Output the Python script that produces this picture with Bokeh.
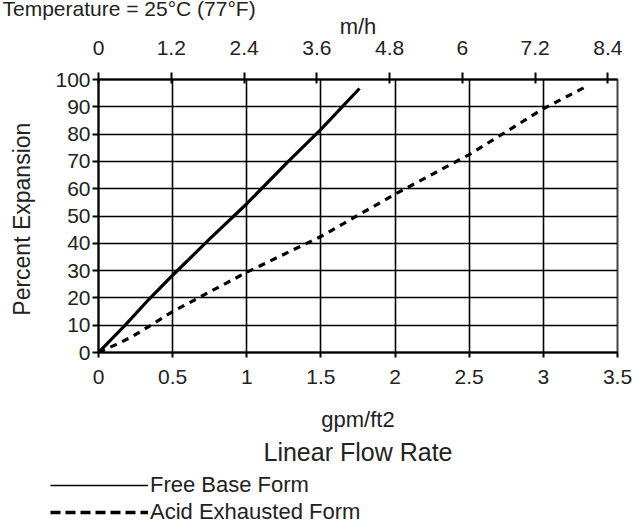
from bokeh.plotting import figure
from bokeh.layouts import column
from bokeh.models import (Range1d, LinearAxis, FixedTicker, Title, Legend, LegendItem,
                          ColumnDataSource)
from bokeh.embed import file_html
from bokeh.resources import INLINE

# ---- data ----
free_gpm = [0, 0.18, 0.34, 0.5, 0.75, 1.0, 1.28, 1.5, 1.76]
free_exp = [0, 10, 19.5, 28.3, 41.6, 54.5, 70, 81.7, 96.7]
acid_gpm = [0, 0.11, 0.22, 0.33, 0.5, 1.0, 1.5, 2.0, 2.5, 3.0, 3.28]
acid_exp = [0, 2.7, 5.6, 9.2, 15, 29.4, 42.5, 58, 72.5, 89.3, 97.2]

x_ticks = [0, 0.5, 1, 1.5, 2, 2.5, 3, 3.5]
x_labels = ["0", "0.5", "1", "1.5", "2", "2.5", "3", "3.5"]
y_ticks = [0, 10, 20, 30, 40, 50, 60, 70, 80, 90, 100]
mh_ticks = [0, 1.2, 2.4, 3.6, 4.8, 6.0, 7.2, 8.4]
mh_labels = ["0", "1.2", "2.4", "3.6", "4.8", "6", "7.2", "8.4"]
GPM_TO_MH = 2.445
series_names = ["Free Base Form", "Acid Exhausted Form"]
header = "Temperature = 25°C (77°F)"

FONT = "Liberation Sans"
TXT = "#222222"

p = figure(width=634, height=474, output_backend="svg", toolbar_location=None,
           x_range=Range1d(0, 3.5), y_range=Range1d(0, 100),
           min_border_left=98, min_border_right=17, min_border_top=79,
           min_border_bottom=122)
p.background_fill_color = "white"
p.border_fill_color = "white"
p.outline_line_color = "#444444"
p.outline_line_width = 2


def style_axis(ax, tick_out, tick_in, label_standoff, axis_standoff, label_size):
    ax.axis_label_text_font = FONT
    ax.axis_label_text_font_size = label_size
    ax.axis_label_text_font_style = "normal"
    ax.axis_label_text_color = TXT
    ax.axis_label_standoff = axis_standoff
    ax.major_label_text_font = FONT
    ax.major_label_text_font_size = "21px"
    ax.major_label_text_color = TXT
    ax.major_label_standoff = label_standoff
    ax.major_tick_out = tick_out
    ax.major_tick_in = tick_in
    ax.minor_tick_out = 0
    ax.minor_tick_in = 0
    ax.axis_line_width = 2
    ax.major_tick_line_width = 2


# bottom axis
xa = p.xaxis[0]
xa.ticker = FixedTicker(ticks=x_ticks)
xa.major_label_overrides = {t: s for t, s in zip(x_ticks, x_labels)}
xa.axis_label = "gpm/ft2"
style_axis(xa, 5, 0, 12, 20, "22px")

# left axis
ya = p.yaxis[0]
ya.ticker = FixedTicker(ticks=y_ticks)
ya.axis_label = "Percent  Expansion"
style_axis(ya, 6, 0, 2, 17, "23px")

# top axis in m/h
p.extra_x_ranges = {"mh": Range1d(0, 3.5 * GPM_TO_MH)}
ta = LinearAxis(x_range_name="mh")
ta.ticker = FixedTicker(ticks=mh_ticks)
ta.major_label_overrides = {t: s for t, s in zip(mh_ticks, mh_labels)}
ta.axis_label = "m/h"
style_axis(ta, 7, 4, 18, -1, "22px")
p.add_layout(ta, "above")

# cut-off header above everything
p.add_layout(Title(text=header, align="left", offset=-96, standoff=-22,
                   vertical_align="top",
                   text_font=FONT, text_font_size="21px",
                   text_font_style="normal", text_color=TXT), "above")

# grid
p.xgrid.ticker = FixedTicker(ticks=x_ticks)
p.ygrid.ticker = FixedTicker(ticks=y_ticks)
for g in (p.xgrid[0], p.ygrid[0]):
    g.grid_line_color = "black"
    g.grid_line_width = 1.6
    g.grid_line_alpha = 1

# second line of x caption
p.add_layout(Title(text="Linear Flow Rate", align="center", text_font=FONT,
                   text_font_size="25px", text_font_style="normal",
                   text_color=TXT, standoff=3), "below")

# curves
free_src = ColumnDataSource(dict(x=free_gpm, y=free_exp))
acid_src = ColumnDataSource(dict(x=acid_gpm, y=acid_exp))
p.line("x", "y", source=free_src, line_color="black", line_width=3.2)
p.line("x", "y", source=acid_src, line_color="black", line_width=3.2,
       line_dash="7 6")

# ---- legend strip (separate figure below the chart) ----
lg = figure(width=634, height=51, output_backend="svg", toolbar_location=None,
            x_range=Range1d(10, 11), y_range=Range1d(0, 1),
            x_axis_type=None, y_axis_type=None,
            min_border_left=0, min_border_right=0, min_border_top=0,
            min_border_bottom=0)
if "frame_align" in lg.properties():
    lg.frame_align = False          # keep the strip's frame full width
    lg_loc, lg_glyph_w = (50, 0), 98
else:
    lg_loc, lg_glyph_w = (0, 0), 50  # frame aligned with the chart's frame
lg.grid.visible = False
lg.outline_line_color = None
lg.background_fill_color = "white"
lg.border_fill_color = "white"
# same series, drawn outside the strip's visible range: only their legend glyphs show
lg_free = lg.line("x", "y", source=free_src, line_color="black", line_width=1.5)
lg_acid = lg.line("x", "y", source=acid_src, line_color="black", line_width=3.5,
                  line_dash="10 5")
legend = Legend(items=[LegendItem(label=series_names[0], renderers=[lg_free]),
                       LegendItem(label=series_names[1], renderers=[lg_acid])],
                location=lg_loc, orientation="vertical",
                glyph_width=lg_glyph_w, glyph_height=24, label_height=24,
                label_standoff=2, spacing=1, padding=0, margin=0,
                label_text_font=FONT, label_text_font_size="22px",
                label_text_line_height=1.0,
                label_text_color=TXT,
                border_line_color=None, background_fill_alpha=0)
lg.add_layout(legend, "center")

page = column(p, lg, spacing=0)
open("out.html", "w").write(file_html(page, INLINE))
